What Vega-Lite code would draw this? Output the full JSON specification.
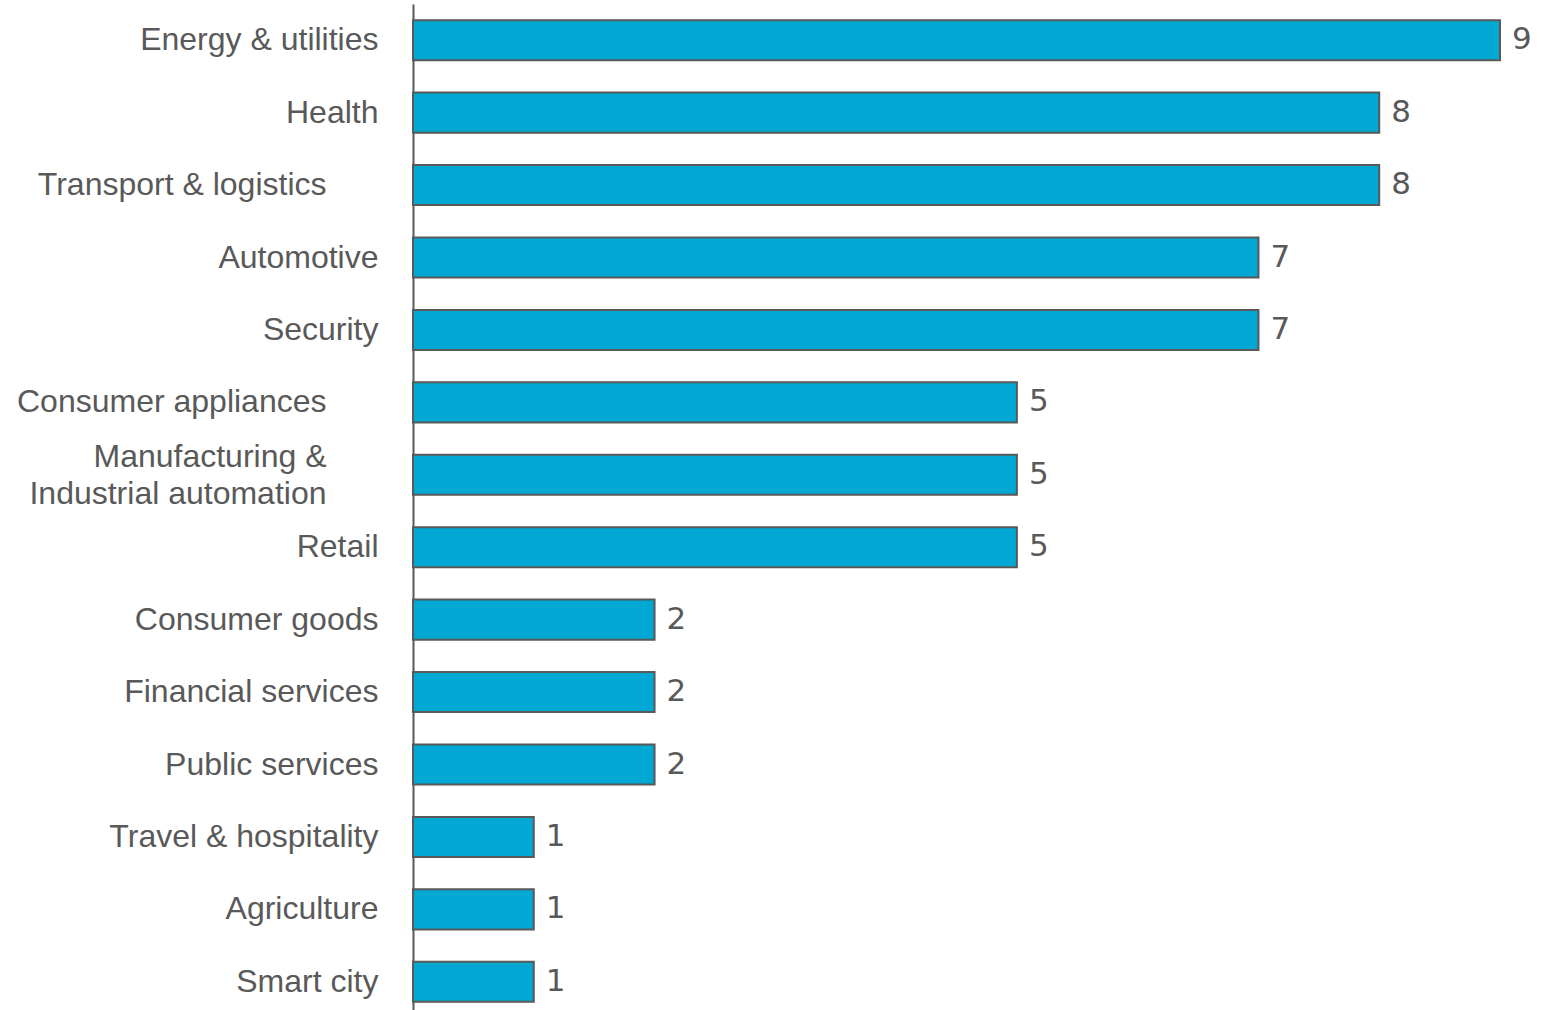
{
  "$schema": "https://vega.github.io/schema/vega-lite/v6.json",
  "width": 1087,
  "height": 1014,
  "autosize": "none",
  "padding": {"left": 413, "top": 4, "right": 60, "bottom": 0},
  "background": "white",
  "config": {"view": {"stroke": null}},
  "data": {
    "values": [
      {"sector": "Energy & utilities", "count": 9},
      {"sector": "Health", "count": 8},
      {"sector": "Transport & logistics", "count": 8},
      {"sector": "Automotive", "count": 7},
      {"sector": "Security", "count": 7},
      {"sector": "Consumer appliances", "count": 5},
      {"sector": "Manufacturing & Industrial automation", "count": 5},
      {"sector": "Retail", "count": 5},
      {"sector": "Consumer goods", "count": 2},
      {"sector": "Financial services", "count": 2},
      {"sector": "Public services", "count": 2},
      {"sector": "Travel & hospitality", "count": 1},
      {"sector": "Agriculture", "count": 1},
      {"sector": "Smart city", "count": 1}
    ]
  },
  "encoding": {
    "y": {
      "field": "sector",
      "type": "nominal",
      "sort": null,
      "scale": {"paddingInner": 0.447, "paddingOuter": 0.2235},
      "axis": {
        "title": null,
        "ticks": false,
        "domain": true,
        "domainColor": "#595959",
        "domainWidth": 2,
        "labelFont": "Liberation Sans",
        "labelFontSize": 32,
        "labelColor": "#595959",
        "labelLimit": 500,
        "labelLineHeight": 37,
        "labelExpr": "datum.value == 'Manufacturing & Industrial automation' ? ['Manufacturing &', 'Industrial automation'] : datum.value",
        "labelOffset": {
          "condition": {
            "test": "datum.value == 'Manufacturing & Industrial automation'",
            "value": -18
          },
          "value": 0
        },
        "labelPadding": {
          "condition": {
            "test": "indexof(['Transport & logistics', 'Consumer appliances', 'Manufacturing & Industrial automation'], datum.value) >= 0",
            "value": 87
          },
          "value": 35
        }
      }
    },
    "x": {
      "field": "count",
      "type": "quantitative",
      "scale": {"domain": [0, 9], "nice": false},
      "axis": null
    }
  },
  "layer": [
    {
      "mark": {"type": "bar", "color": "#00A8D3", "stroke": "#595959", "strokeWidth": 2}
    },
    {
      "mark": {
        "type": "text",
        "align": "left",
        "baseline": "middle",
        "dx": 12,
        "font": "DejaVu Sans",
        "fontSize": 31,
        "color": "#595959"
      },
      "encoding": {"text": {"field": "count", "type": "quantitative"}}
    }
  ]
}
